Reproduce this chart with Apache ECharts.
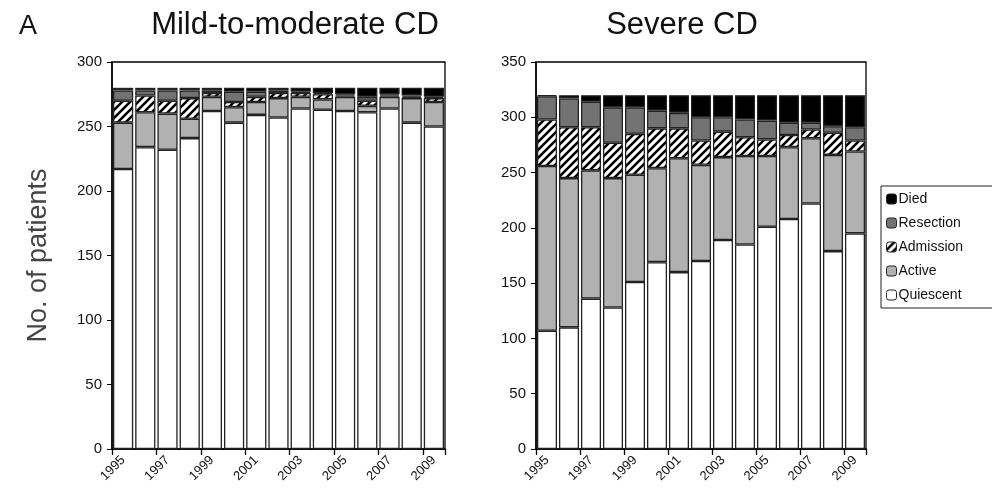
<!DOCTYPE html>
<html>
<head>
<meta charset="utf-8">
<script src="https://cdn.jsdelivr.net/npm/echarts@6/dist/echarts.min.js"></script>
<style>
  html, body { margin: 0; padding: 0; background: #fff; }
  #chart { width: 992px; height: 504px; }
</style>
</head>
<body>
<div id="chart"></div>
<script>
var years = ['1995', '1996', '1997', '1998', '1999', '2000', '2001', '2002', '2003', '2004', '2005', '2006', '2007', '2008', '2009'];
var legends = ['Died', 'Resection', 'Admission', 'Active', 'Quiescent'];

// mild-to-moderate CD
var mildQuiescent = [217, 234, 232, 241, 262, 253, 259, 257, 264, 263, 262, 261, 264, 253, 250];
var mildActive    = [36, 27, 28, 15, 11, 12, 10, 15, 9, 8, 11, 5, 9, 19, 19];
var mildAdmission = [17, 13, 10, 16, 3, 4, 4, 4, 3, 4, 1, 4, 1, 1, 3];
var mildResection = [8, 4, 8, 6, 2, 8, 4, 2, 1, 1, 1, 3, 1, 1, 1];
var mildDied      = [2, 2, 2, 2, 2, 3, 3, 2, 3, 4, 5, 7, 5, 6, 7];

// severe CD
var sevQuiescent = [107, 110, 136, 128, 151, 169, 160, 170, 189, 185, 201, 208, 222, 179, 195];
var sevActive    = [149, 135, 116, 117, 97, 85, 103, 87, 75, 80, 64, 65, 59, 87, 74];
var sevAdmission = [42, 46, 39, 32, 37, 36, 27, 22, 23, 17, 15, 11, 8, 20, 10];
var sevResection = [21, 26, 23, 32, 24, 16, 14, 21, 13, 16, 17, 11, 6, 6, 12];
var sevDied      = [1, 3, 6, 11, 11, 14, 16, 20, 20, 22, 23, 25, 25, 28, 29];

var mildTicks = [0, 50, 300];
var sevTicks = [0, 50, 350];

// hatch pattern for Admission
var hatch = document.createElement('canvas');
hatch.width = 8;
hatch.height = 8;
var hc = hatch.getContext('2d');
hc.fillStyle = '#fff';
hc.fillRect(0, 0, 8, 8);
hc.strokeStyle = '#000';
hc.lineWidth = 2.6;
hc.beginPath();
hc.moveTo(-2, 10); hc.lineTo(10, -2);
hc.moveTo(-6, 6); hc.lineTo(6, -6);
hc.moveTo(2, 14); hc.lineTo(14, 2);
hc.stroke();

var colors = {
  Died: '#000000',
  Resection: '#727272',
  Admission: { image: hatch, repeat: 'repeat' },
  Active: '#b1b1b1',
  Quiescent: '#ffffff'
};

var font = 'Liberation Sans, Arial, sans-serif';

function makeSeries(idx, stack, data) {
  var names = ['Quiescent', 'Active', 'Admission', 'Resection', 'Died'];
  return names.map(function (n, i) {
    return {
      name: n,
      type: 'bar',
      stack: stack,
      xAxisIndex: idx,
      yAxisIndex: idx,
      barCategoryGap: '9%',
      itemStyle: { color: colors[n], borderColor: '#222', borderWidth: 1.3 },
      emphasis: { disabled: true },
      data: data[i]
    };
  });
}

function xAxisCfg(idx) {
  return {
    type: 'category',
    gridIndex: idx,
    data: years,
    axisLine: { lineStyle: { color: '#000', width: 1.5 } },
    axisTick: { show: true, length: 6, lineStyle: { color: '#000', width: 1.3 } },
    axisLabel: { interval: 1, rotate: 45, color: '#111', fontSize: 13, fontFamily: font, margin: 9 }
  };
}

function yAxisCfg(idx, max) {
  return {
    type: 'value',
    gridIndex: idx,
    min: 0,
    max: max,
    interval: 50,
    splitLine: { show: false },
    axisLine: { show: true, lineStyle: { color: '#000', width: 1.5 } },
    axisTick: { show: true, length: 5, lineStyle: { color: '#000' } },
    axisLabel: { color: '#111', fontSize: 15, fontFamily: font, margin: 10 }
  };
}

var chart = echarts.init(document.getElementById('chart'));
var yLeft = yAxisCfg(0, mildTicks[2]);
yLeft.name = 'No. of patients';
yLeft.nameLocation = 'middle';
yLeft.nameGap = 60;
yLeft.nameTextStyle = { fontSize: 27, color: '#444', fontFamily: font };

var option = {
  animation: false,
  backgroundColor: '#fff',
  title: [
    { text: 'A', left: 14, top: 8, textStyle: { fontSize: 27, fontWeight: 'normal', color: '#111', fontFamily: font } },
    { text: 'Mild-to-moderate CD', left: 290, top: 5, textAlign: 'center', textStyle: { fontSize: 31, fontWeight: 'normal', color: '#111', fontFamily: font } },
    { text: 'Severe CD', left: 677, top: 5, textAlign: 'center', textStyle: { fontSize: 31, fontWeight: 'normal', color: '#111', fontFamily: font } }
  ],
  legend: {
    data: legends,
    orient: 'vertical',
    left: 881,
    top: 186,
    itemWidth: 10,
    itemHeight: 10,
    itemGap: 10,
    padding: [6, 30, 6, 5],
    borderColor: '#222',
    borderWidth: 1,
    selectedMode: false,
    textStyle: { fontSize: 14, color: '#111', fontFamily: font, padding: [0, 0, 0, -3] },
    itemStyle: { borderColor: '#222', borderWidth: 1 }
  },
  grid: [
    { left: 112, right: 547, top: 62, bottom: 55, show: true, borderColor: '#000', borderWidth: 1.3, backgroundColor: '#fff' },
    { left: 536, right: 126, top: 62, bottom: 55, show: true, borderColor: '#000', borderWidth: 1.3, backgroundColor: '#fff' }
  ],
  xAxis: [xAxisCfg(0), xAxisCfg(1)],
  yAxis: [yLeft, yAxisCfg(1, sevTicks[2])],
  series: makeSeries(0, 'mild', [mildQuiescent, mildActive, mildAdmission, mildResection, mildDied])
    .concat(makeSeries(1, 'severe', [sevQuiescent, sevActive, sevAdmission, sevResection, sevDied]))
};
chart.setOption(option);
</script>
</body>
</html>
